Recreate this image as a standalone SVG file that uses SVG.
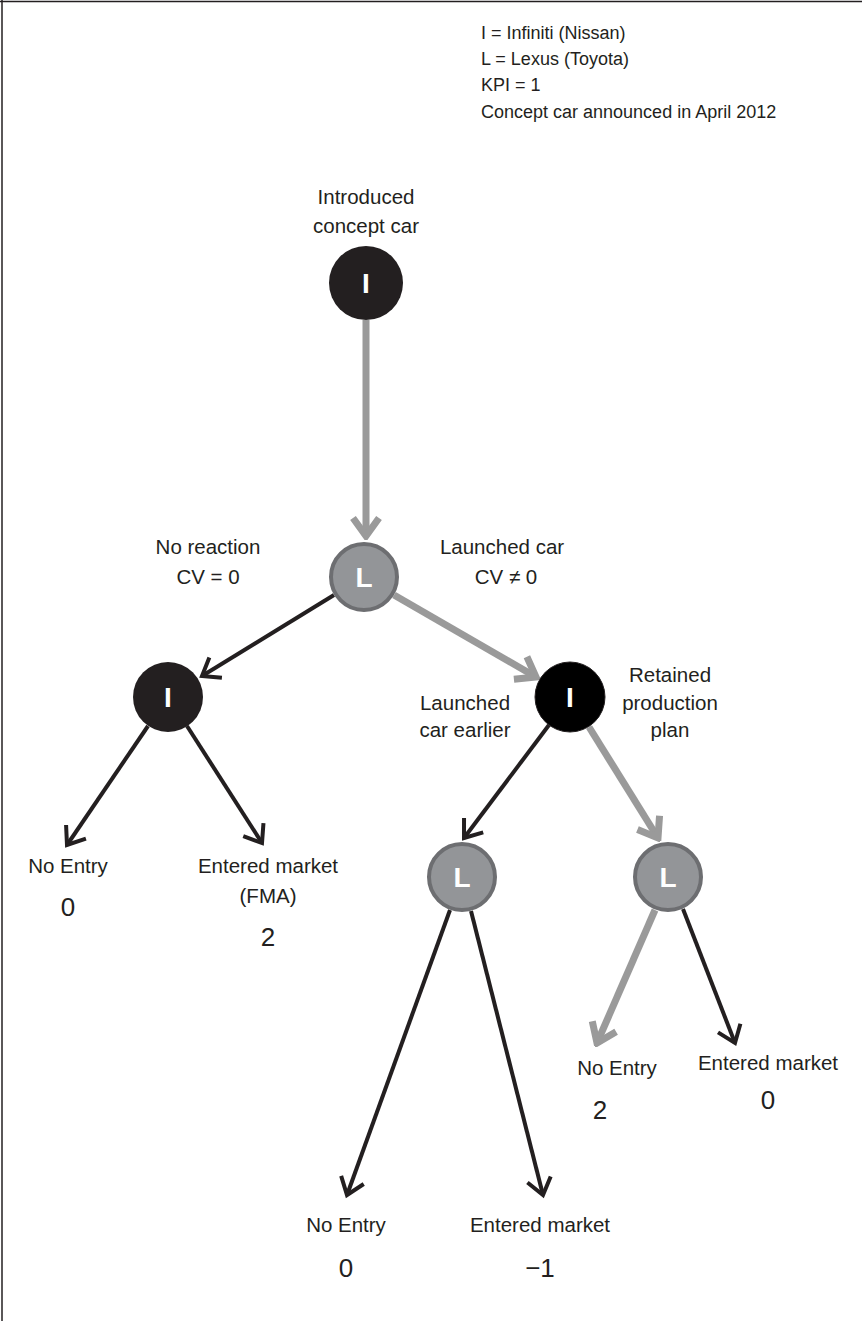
<svg xmlns="http://www.w3.org/2000/svg" width="862" height="1321" viewBox="0 0 862 1321">
<style>
.t{font-family:"Liberation Sans",Arial,sans-serif;font-size:20.5px;fill:#231f20;text-anchor:middle}
.lg{font-family:"Liberation Sans",Arial,sans-serif;font-size:18px;fill:#231f20}
.n{font-family:"Liberation Sans",Arial,sans-serif;font-size:26px;fill:#231f20;text-anchor:middle}
.nl{font-family:"Liberation Sans",Arial,sans-serif;font-size:28px;font-weight:bold;fill:#fff;text-anchor:middle}
.blk{fill:#231f20}
.gry{fill:#939598;stroke:#6d6e71;stroke-width:4}
.cb{stroke:#231f20;stroke-width:4;fill:none}
.cg{stroke:#9a9a9a;stroke-width:7;fill:none}
</style>
<defs>
<marker id="ab" viewBox="-22 -16 26 32" refX="0" refY="0" markerWidth="26" markerHeight="32" markerUnits="userSpaceOnUse" orient="auto">
<path d="M-16,-12 L0,0 L-16,12" fill="none" stroke="#231f20" stroke-width="4"/>
</marker>
<marker id="ag" viewBox="-26 -18 30 36" refX="0" refY="0" markerWidth="30" markerHeight="36" markerUnits="userSpaceOnUse" orient="auto">
<path d="M-18,-13 L0,0 L-18,13" fill="none" stroke="#9a9a9a" stroke-width="7"/>
</marker>
</defs>
<g id="frame">
<line x1="0" y1="1.5" x2="862" y2="1.5" stroke="#231f20" stroke-width="1.5"/>
<line x1="2" y1="0" x2="2" y2="1321" stroke="#231f20" stroke-width="1.5"/>
</g>
<g id="legend">
<text class="lg" x="481" y="39">I = Infiniti (Nissan)</text>
<text class="lg" x="481" y="65">L = Lexus (Toyota)</text>
<text class="lg" x="481" y="91">KPI = 1</text>
<text class="lg" x="481" y="118">Concept car announced in April 2012</text>
</g>
<g id="connectors">
<line class="cg" x1="366" y1="320" x2="366" y2="536" marker-end="url(#ag)"/>
<line class="cb" x1="334" y1="595" x2="202" y2="676" marker-end="url(#ab)"/>
<line class="cg" x1="394" y1="595" x2="536" y2="677" marker-end="url(#ag)"/>
<line class="cb" x1="148" y1="726" x2="67" y2="845" marker-end="url(#ab)"/>
<line class="cb" x1="187" y1="726" x2="262" y2="843" marker-end="url(#ab)"/>
<line class="cb" x1="549" y1="725" x2="464" y2="838" marker-end="url(#ab)"/>
<line class="cg" x1="589" y1="727" x2="658" y2="838" marker-end="url(#ag)"/>
<line class="cb" x1="450" y1="910" x2="347" y2="1195" marker-end="url(#ab)"/>
<line class="cb" x1="471" y1="911" x2="543" y2="1195" marker-end="url(#ab)"/>
<line class="cg" x1="655" y1="910" x2="597" y2="1043" marker-end="url(#ag)"/>
<line class="cb" x1="683" y1="909" x2="735" y2="1043" marker-end="url(#ab)"/>
</g>
<g id="node-i-top">
<text class="t" x="366" y="204">Introduced</text>
<text class="t" x="366" y="233">concept car</text>
<circle class="blk" cx="366" cy="283" r="37"/>
<text class="nl" x="366" y="293">I</text>
</g>
<g id="node-l1">
<circle class="gry" cx="364" cy="577" r="33"/>
<text class="nl" x="364" y="587">L</text>
<text class="t" x="208" y="554">No reaction</text>
<text class="t" x="208" y="584">CV = 0</text>
<text class="t" x="502" y="554">Launched car</text>
<text class="t" x="506" y="584">CV ≠ 0</text>
</g>
<g id="node-i-left">
<circle class="blk" cx="168" cy="697" r="35"/>
<text class="nl" x="168" y="707">I</text>
</g>
<g id="node-i-right">
<circle cx="570" cy="697" r="35" fill="#000" stroke="#231f20" stroke-width="1"/>
<text class="nl" x="570" y="707">I</text>
<text class="t" x="465" y="710">Launched</text>
<text class="t" x="465" y="737">car earlier</text>
<text class="t" x="670" y="682">Retained</text>
<text class="t" x="670" y="710">production</text>
<text class="t" x="670" y="737">plan</text>
</g>
<g id="leaf-il-noentry">
<text class="t" x="68" y="873">No Entry</text>
<text class="n" x="68" y="916">0</text>
</g>
<g id="leaf-il-entered">
<text class="t" x="268" y="873">Entered market</text>
<text class="t" x="268" y="903">(FMA)</text>
<text class="n" x="268" y="946">2</text>
</g>
<g id="node-l-bl">
<circle class="gry" cx="462" cy="877" r="33"/>
<text class="nl" x="462" y="887">L</text>
</g>
<g id="node-l-br">
<circle class="gry" cx="668" cy="877" r="33"/>
<text class="nl" x="668" y="887">L</text>
</g>
<g id="leaf-lbr-noentry">
<text class="t" x="617" y="1075">No Entry</text>
<text class="n" x="600" y="1119">2</text>
</g>
<g id="leaf-lbr-entered">
<text class="t" x="768" y="1070">Entered market</text>
<text class="n" x="768" y="1109">0</text>
</g>
<g id="leaf-lbl-noentry">
<text class="t" x="346" y="1232">No Entry</text>
<text class="n" x="346" y="1277">0</text>
</g>
<g id="leaf-lbl-entered">
<text class="t" x="540" y="1232">Entered market</text>
<text class="n" x="540" y="1277">−1</text>
</g>
</svg>
